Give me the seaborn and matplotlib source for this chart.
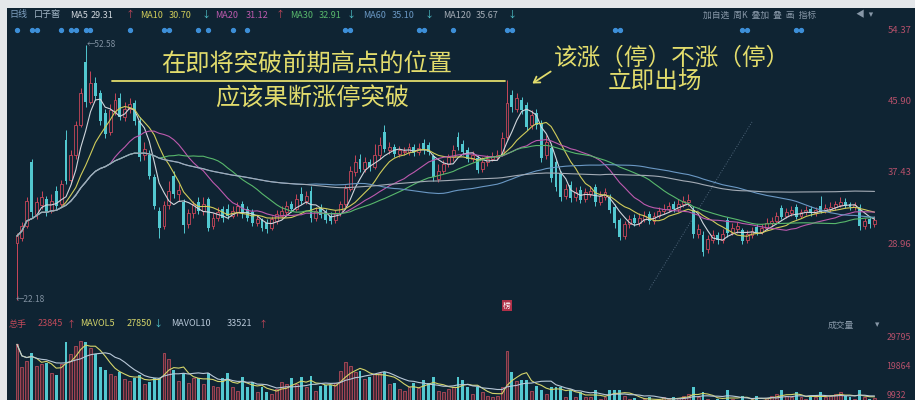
import numpy as np
import pandas as pd
import matplotlib
matplotlib.use("Agg")
import matplotlib.pyplot as plt
import seaborn as sns
from matplotlib.lines import Line2D
from matplotlib.patches import Rectangle, FancyArrowPatch
from matplotlib.transforms import blended_transform_factory

# -------------------------------
# Data (口子窖)
# -------------------------------
opens = [29.0, 29.6, 31.0, 38.6, 32.4, 33.5, 34.2, 32.8, 35.2, 33.6,
         41.2, 36.5, 39.5, 43.0, 50.5, 45.8, 48.0, 46.8, 44.5, 42.2,
         44.6, 46.2, 44.0, 45.0, 45.6, 43.5, 39.4, 39.5, 36.8, 32.8,
         31.0, 33.5, 37.0, 34.8, 33.8, 31.2, 32.5, 33.8, 32.8, 34.2,
         31.0, 32.0, 33.0, 33.0, 32.2, 32.6, 33.6, 33.0, 32.6, 31.4,
         31.8, 31.4, 30.8, 31.6, 32.2, 32.6, 33.6, 33.0, 34.8, 34.0,
         35.2, 32.0, 33.2, 32.6, 32.2, 31.7, 32.5, 33.6, 35.4, 37.4,
         39.0, 37.8, 38.6, 38.0, 39.4, 42.2, 40.0, 40.4, 39.6, 39.8,
         39.8, 40.4, 39.8, 40.9, 40.6, 39.3, 36.6, 37.6, 38.4, 39.2,
         41.6, 40.8, 40.0, 39.0, 39.1, 37.8, 38.6, 39.0, 39.2, 39.6,
         41.6, 46.6, 45.0, 46.0, 45.4, 43.0, 44.5, 43.3, 39.4, 40.3,
         38.6, 37.3, 34.6, 35.9, 34.4, 35.3, 34.2, 34.8, 35.6, 33.9,
         34.5, 34.4, 33.3, 31.7, 29.8, 31.2, 32.0, 31.4, 31.8, 32.4,
         31.6, 32.2, 32.8, 33.0, 33.6, 33.0, 33.6, 33.8, 32.9, 30.0,
         29.9, 28.2, 29.3, 29.9, 29.3, 31.7, 30.2, 30.6, 30.5, 29.3,
         29.9, 30.9, 30.3, 30.8, 31.3, 31.6, 33.1, 32.2, 32.5, 33.2,
         32.2, 32.6, 33.0, 32.5, 33.4, 32.8, 33.0, 33.2, 33.5, 33.9,
         33.6, 33.2, 33.3, 31.0, 31.8, 31.2]
closes = [29.8, 31.0, 34.0, 32.6, 33.8, 34.5, 32.6, 34.0, 33.4, 36.0,
          36.4, 39.5, 43.0, 46.8, 45.8, 48.0, 46.5, 43.5, 42.0, 44.8,
          46.0, 44.0, 45.0, 45.5, 43.5, 39.2, 40.2, 37.0, 33.4, 30.8,
          33.5, 35.2, 34.8, 35.3, 31.1, 32.5, 33.6, 32.8, 33.6, 30.8,
          32.0, 32.6, 32.0, 32.2, 32.8, 33.4, 32.5, 32.0, 31.4, 31.8,
          30.8, 30.6, 31.8, 32.4, 32.8, 33.4, 33.0, 34.2, 34.0, 34.6,
          31.9, 32.8, 32.3, 31.7, 31.6, 32.5, 33.6, 35.5, 37.5, 38.6,
          37.8, 38.6, 38.0, 39.4, 40.6, 40.2, 40.4, 39.6, 40.0, 39.9,
          40.4, 39.7, 40.3, 40.0, 39.8, 36.8, 37.6, 38.4, 39.2, 40.0,
          40.4, 39.8, 39.0, 39.4, 37.7, 38.6, 39.0, 39.3, 39.5, 41.5,
          45.6, 45.2, 46.2, 44.8, 42.8, 44.2, 43.0, 39.1, 41.0, 36.7,
          35.6, 34.4, 35.4, 34.3, 35.0, 34.1, 35.0, 35.2, 33.8, 34.6,
          35.0, 32.9, 31.3, 29.7, 31.2, 31.8, 31.4, 32.0, 32.2, 31.6,
          32.2, 32.8, 33.0, 33.4, 33.0, 33.6, 34.0, 34.1, 30.0, 30.6,
          27.9, 29.4, 29.9, 29.3, 30.0, 30.1, 30.8, 31.0, 29.2, 30.0,
          30.4, 30.2, 30.8, 31.4, 31.6, 32.2, 32.1, 32.6, 32.9, 32.1,
          32.6, 32.9, 32.5, 32.9, 32.8, 33.1, 33.3, 33.6, 33.9, 33.4,
          33.2, 33.5, 31.0, 31.6, 31.2, 31.7]
highs = [30.2, 31.5, 34.5, 39.0, 34.5, 35.2, 34.6, 34.8, 35.8, 36.5,
         42.4, 40.0, 43.5, 47.5, 52.58, 49.5, 48.8, 47.2, 45.0, 45.5,
         46.8, 46.8, 45.8, 46.2, 46.0, 44.0, 41.0, 40.0, 37.2, 33.2,
         34.0, 36.3, 37.6, 36.0, 34.2, 33.0, 34.0, 34.5, 34.4, 34.5,
         32.5, 33.2, 33.4, 33.6, 33.4, 33.8, 34.0, 33.4, 33.0, 32.3,
         32.0, 31.8, 32.2, 32.9, 33.4, 34.0, 34.0, 34.8, 35.6, 35.2,
         35.8, 33.3, 33.6, 33.0, 32.6, 32.9, 34.0, 35.9, 38.2, 39.5,
         39.6, 39.2, 39.0, 40.8, 41.6, 43.0, 41.0, 40.8, 40.5, 40.4,
         40.9, 40.8, 40.9, 41.4, 41.0, 39.6, 38.4, 38.9, 39.6, 40.6,
         42.2, 41.2, 40.4, 39.9, 39.5, 39.2, 39.5, 39.8, 40.0, 42.2,
         48.4, 47.2, 46.8, 46.4, 45.8, 44.8, 45.0, 43.6, 41.8, 40.8,
         39.0, 37.6, 36.0, 36.4, 35.6, 35.8, 35.5, 35.8, 36.0, 35.2,
         35.5, 34.8, 33.6, 32.0, 31.6, 32.3, 32.4, 32.5, 32.8, 32.8,
         32.6, 33.3, 33.6, 33.9, 34.0, 34.2, 34.6, 34.8, 33.4, 31.2,
         30.4, 29.9, 30.5, 30.3, 30.6, 32.1, 31.3, 31.5, 30.8, 30.5,
         30.9, 31.2, 31.2, 31.9, 32.1, 32.6, 33.5, 33.1, 33.4, 33.6,
         33.0, 33.4, 33.4, 33.3, 34.6, 33.6, 33.8, 34.0, 34.4, 34.3,
         33.9, 33.9, 33.6, 32.0, 32.1, 32.2]
lows = [22.18, 29.2, 30.8, 32.0, 31.8, 33.0, 32.2, 32.5, 33.0, 33.2,
        36.0, 36.0, 39.0, 42.8, 45.2, 45.5, 46.0, 43.0, 41.5, 41.8,
        44.2, 43.6, 43.5, 44.5, 43.0, 38.8, 38.9, 36.6, 33.0, 29.6,
        30.6, 33.0, 34.3, 34.0, 30.2, 30.8, 32.0, 32.4, 32.3, 30.4,
        30.6, 31.6, 31.5, 31.8, 31.9, 32.2, 32.0, 31.6, 31.0, 31.0,
        30.4, 30.2, 30.5, 31.2, 31.9, 32.3, 32.6, 32.8, 33.6, 33.6,
        31.5, 31.6, 31.9, 31.3, 31.2, 31.4, 32.2, 33.3, 35.2, 37.0,
        37.4, 37.4, 37.6, 37.8, 39.0, 39.8, 39.6, 39.2, 39.2, 39.4,
        39.4, 39.3, 39.5, 39.6, 39.4, 36.4, 36.2, 37.2, 38.0, 38.8,
        40.0, 39.4, 38.6, 38.6, 37.3, 37.4, 38.2, 38.7, 38.9, 39.3,
        41.2, 44.6, 44.6, 44.4, 42.4, 42.6, 42.6, 38.6, 39.0, 36.2,
        35.2, 34.0, 34.2, 33.9, 34.0, 33.7, 33.9, 34.4, 33.4, 33.5,
        34.1, 32.5, 30.8, 29.3, 29.4, 30.8, 31.0, 31.0, 31.5, 31.2,
        31.2, 31.9, 32.4, 32.6, 32.6, 32.7, 33.2, 33.4, 29.6, 29.6,
        27.4, 27.8, 29.0, 28.9, 29.0, 29.7, 29.9, 30.2, 28.9, 29.0,
        29.6, 29.9, 30.0, 30.5, 31.0, 31.2, 31.8, 31.9, 32.2, 31.8,
        31.9, 32.3, 32.2, 32.2, 32.5, 32.5, 32.7, 32.9, 33.2, 33.1,
        32.9, 32.9, 30.5, 30.6, 30.8, 30.9]
volumes = [27000, 19200, 21400, 24100, 19700, 20300, 20700, 17500, 16700, 20300,
           27800, 23600, 26400, 28100, 27800, 25900, 23600, 19400, 18400, 16900,
           16400, 17700, 15300, 14700, 15700, 16600, 13600, 14300, 15600, 15600,
           24200, 22000, 18400, 14700, 17500, 14100, 15800, 15800, 13600, 17500,
           13000, 12500, 15600, 17500, 12500, 11300, 16000, 12500, 14300, 10800,
           12500, 10900, 10200, 11900, 14300, 13600, 15600, 13600, 16000, 12500,
           16400, 11300, 13000, 13200, 13200, 14100, 18100, 20900, 19700, 17700,
           18100, 15300, 16000, 17000, 17500, 17600, 13600, 13900, 11900, 11300,
           12500, 13900, 12200, 14900, 14100, 15900, 11300, 10800, 11900, 12500,
           15900, 14900, 12500, 10200, 12600, 10800, 9700, 9100, 9700, 12500,
           24800, 17700, 14700, 15000, 15000, 11300, 13000, 11700, 10200, 12500,
           12600, 12600, 9100, 11600, 9100, 10800, 9100, 9100, 11600, 8500,
           9100, 11600, 11600, 11600, 9700, 8500, 8900, 8000, 8500, 9100,
           8000, 8500, 9100, 8500, 9100, 8900, 9700, 10200, 12600, 9100,
           10800, 8500, 8000, 8500, 8000, 11600, 8500, 8000, 9700, 8000,
           8500, 9700, 8000, 8900, 9700, 10200, 11600, 9700, 9100, 10800,
           9100, 8500, 9700, 9100, 10800, 9100, 9700, 10200, 10800, 9700,
           9100, 8500, 11600, 9100, 8500, 8900]

ma_windows = [5, 10, 20, 30, 60, 120]
ma_names = ["MA5", "MA10", "MA20", "MA30", "MA60", "MA120"]
ma_values = ["29.31", "30.70", "31.12", "32.91", "35.10", "35.67"]
ma_arrows = ["↑", "↓", "↑", "↓", "↓", "↓"]
vol_windows = [5, 10]
vol_names = ["MAVOL5", "MAVOL10"]
vol_values = ["27850", "33521"]
vol_arrows = ["↓", "↑"]
vol_total = "23845"
price_ticks = [54.37, 45.90, 37.43, 28.96]
vol_ticks = [29795, 19864, 9932]
info_bars = [0, 3, 4, 9, 11, 12, 14, 15, 23, 30, 31, 37, 39, 44, 47,
             67, 68, 82, 83, 89, 100, 101, 122, 123, 148, 149, 159, 160]
trend_bars = [129, 150]
trend_prices = [23.4, 43.4]
list_bar = 100   # 龙虎榜 marker

# -------------------------------
# Style
# -------------------------------
W, H = 915, 400
BG = "#0f2433"
UP = "#c8475a"
DOWN = "#52c8d0"
YEL = "#e2dc6c"
ma_colors = ["#d0d6dc", "#d0cc5a", "#bd5aae", "#58b86c", "#6a98c4", "#a4acb6"]
vol_colors = ["#d4d46a", "#b8c8d8"]

sns.set_theme(style="dark", rc={"axes.facecolor": BG, "figure.facecolor": "#e4e7ea"})
plt.rcParams["font.family"] = ["Noto Sans CJK SC", "DejaVu Sans"]


def fx(px):
    return px / W


def fy(py):
    return 1 - py / H


fig = plt.figure(figsize=(W / 100, H / 100), dpi=100)
fig.add_artist(Rectangle((fx(7), 0), 1, fy(8), transform=fig.transFigure,
                         facecolor=BG, edgecolor="none", zorder=0))

n = len(closes)
idx = np.arange(n)
df = pd.DataFrame({"open": opens, "close": closes, "high": highs, "low": lows, "vol": volumes})
up = df["close"] >= df["open"]

# -------------------------------
# Price panel
# -------------------------------
ax = fig.add_axes([fx(8), fy(312), fx(882) - fx(8), fy(22) - fy(312)])
ax.set_facecolor(BG)
x_lo, x_hi = (8 - 17) / 4.9, (882 - 17) / 4.9
ax.set_xlim(x_lo, x_hi)
ax.set_ylim(20.73, 55.32)

wick_colors = np.where(up, UP, DOWN)
ax.vlines(idx, df["low"], df["high"], colors=wick_colors, linewidth=0.7, zorder=2)
body_lo = np.minimum(df["open"], df["close"])
body_h = np.maximum((df["close"] - df["open"]).abs(), 0.08)
ax.bar(idx[up], body_h[up], bottom=body_lo[up], width=0.6,
       facecolor=BG, edgecolor=UP, linewidth=0.6, zorder=3)
ax.bar(idx[~up], body_h[~up], bottom=body_lo[~up], width=0.6,
       color=DOWN, linewidth=0, zorder=3)

for w, c in zip(ma_windows, ma_colors):
    ma = df["close"].rolling(w, min_periods=1).mean()
    sns.lineplot(x=idx, y=ma, color=c, linewidth=0.8, ax=ax, legend=False, zorder=4)

ax.plot(trend_bars, trend_prices, ls=":", color="#7890a8", lw=0.7, alpha=0.6, zorder=1)

trans = blended_transform_factory(ax.transData, ax.transAxes)
ax.plot(info_bars, [0.972] * len(info_bars), "o", ms=2.8, color="#3d8fd8",
        transform=trans, clip_on=False, zorder=5)
ax.text(list_bar, 0.022, "榜", transform=trans, ha="center", va="center", fontsize=5.5,
        color="white", bbox=dict(boxstyle="square,pad=0.15", fc="#b03048", ec="none"))

i_hi, i_lo = int(df["high"].idxmax()), int(df["low"].idxmin())
ax.annotate(f"←{highs[i_hi]:.2f}", xy=(i_hi, highs[i_hi]), xytext=(1, 0),
            textcoords="offset points", va="center", ha="left", fontsize=6, color="#8090a0")
ax.annotate(f"←{lows[i_lo]:.2f}", xy=(i_lo, lows[i_lo]), xytext=(-1, 0),
            textcoords="offset points", va="center", ha="left", fontsize=6, color="#8090a0")

ax.yaxis.tick_right()
ax.set_yticks(price_ticks)
ax.set_yticklabels([f"{t:.2f}" for t in price_ticks])
ax.tick_params(axis="y", length=0, pad=4, labelsize=6.8, labelcolor="#b5506a")
ax.set_xticks([])
ax.set_xlabel("")
ax.set_ylabel("")
for s in ax.spines.values():
    s.set_visible(False)

# -------------------------------
# Volume panel (cropped at the bottom, like the scan)
# -------------------------------
axv = fig.add_axes([fx(8), fy(424.5), fx(882) - fx(8), fy(318) - fy(424.5)])
axv.set_facecolor(BG)
axv.set_xlim(x_lo, x_hi)
axv.set_ylim(0, 35856)
axv.bar(idx[up], df["vol"][up], width=0.6, facecolor="#4a2836", edgecolor="#b04a5a",
        linewidth=0.6, zorder=2)
axv.bar(idx[~up], df["vol"][~up], width=0.6, color=DOWN, linewidth=0, zorder=2)
for w, c in zip(vol_windows, vol_colors):
    mv = df["vol"].rolling(w, min_periods=1).mean()
    sns.lineplot(x=idx, y=mv, color=c, linewidth=0.8, ax=axv, legend=False, zorder=3)
axv.yaxis.tick_right()
axv.set_yticks(vol_ticks)
axv.set_yticklabels([str(t) for t in vol_ticks])
axv.tick_params(axis="y", length=0, pad=3, labelsize=6.3, labelcolor="#b5506a")
axv.set_xticks([])
axv.set_xlabel("")
axv.set_ylabel("")
for s in axv.spines.values():
    s.set_visible(False)

# -------------------------------
# Header texts
# -------------------------------
def t(px, py, s, color, size=6.5, **kw):
    fig.text(fx(px), fy(py), s, color=color, fontsize=size, va="center", ha="left", **kw)


t(9, 15, "日线", "#7fa0c0")
t(34, 15, "口子窖", "#a0b4c4")
name_x = [70, 140, 215, 290, 363, 443]
value_x = [91, 169, 246, 319, 392, 476]
arrow_x = [126, 202, 276, 347, 425, 508]
for i, c in enumerate(ma_colors):
    t(name_x[i], 15, ma_names[i], c)
    t(value_x[i], 15, ma_values[i], c)
    t(arrow_x[i], 15, ma_arrows[i], UP if ma_arrows[i] == "↑" else DOWN)
t(703, 15, "加自选  周K  叠加  叠  画  指标", "#8898a8", size=6.3)
t(856, 15, "◀  ▾", "#8898a8", size=6.3)

t(9, 324, "总手", "#c04a5a")
t(38, 324, vol_total, "#c04a5a")
t(67, 324, "↑", UP)
t(80, 324, vol_names[0], vol_colors[0])
t(127, 324, vol_values[0], vol_colors[0])
t(154, 324, vol_arrows[0], DOWN)
t(171, 324, vol_names[1], vol_colors[1])
t(227, 324, vol_values[1], vol_colors[1])
t(259, 324, vol_arrows[1], UP)
t(828, 325, "成交量", "#8898a8", size=6.3)
t(875, 325, "▾", "#8898a8", size=6.3)

# -------------------------------
# Annotations
# -------------------------------
fig.text(fx(307), fy(65), "在即将突破前期高点的位置", color=YEL, fontsize=17.5, ha="center", va="center")
fig.add_artist(Line2D([fx(112), fx(505)], [fy(81), fy(81)], color=YEL, lw=1.3))
fig.text(fx(312), fy(99), "应该果断涨停突破", color=YEL, fontsize=17.5, ha="center", va="center")
fig.text(fx(672), fy(58), "该涨（停）不涨（停）", color=YEL, fontsize=17, ha="center", va="center")
fig.text(fx(655), fy(81), "立即出场", color=YEL, fontsize=17, ha="center", va="center")
fig.add_artist(FancyArrowPatch((fx(553), fy(70)), (fx(530), fy(85)),
                               transform=fig.transFigure, arrowstyle="->,head_length=4,head_width=2.5",
                               color=YEL, lw=1.3))

fig.savefig("out.png", dpi=100, facecolor=fig.get_facecolor())
